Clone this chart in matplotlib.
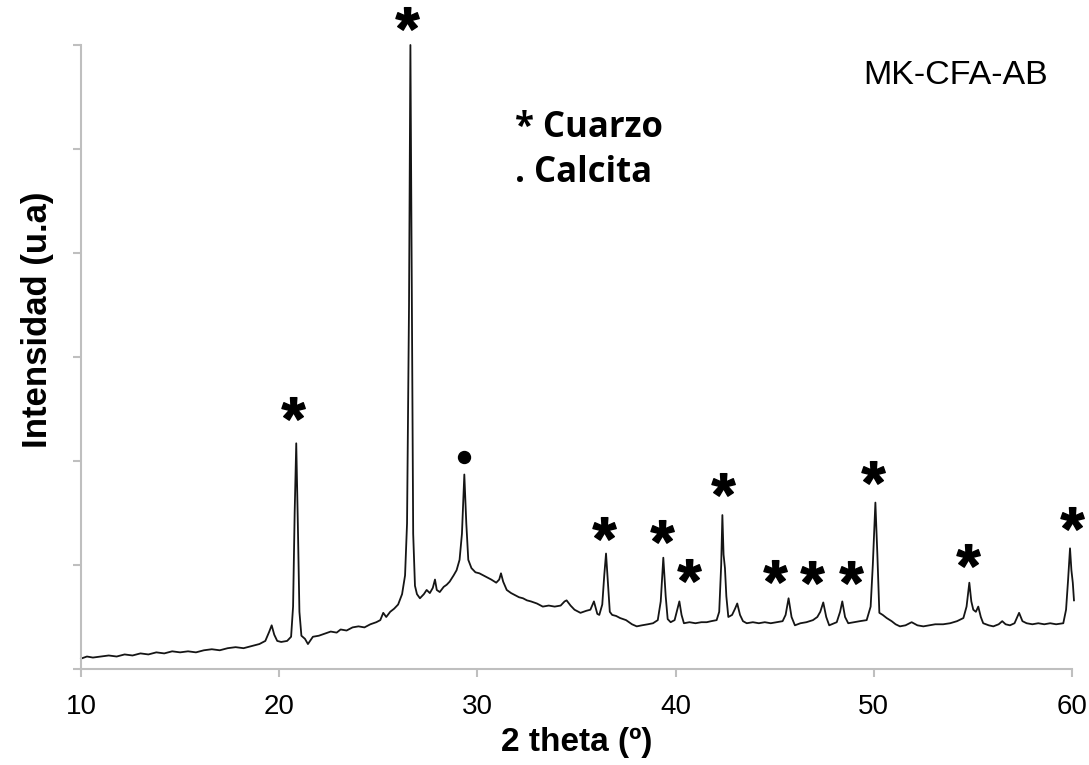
import numpy as np
import matplotlib
matplotlib.use('Agg')
import matplotlib.pyplot as plt
from matplotlib.textpath import TextPath
from matplotlib.font_manager import FontProperties
from matplotlib.path import Path

plt.rcParams['font.family'] = 'Liberation Sans'

# difractograma MK-CFA-AB (2 theta, intensidad en u.a.)
two_theta = [
    10.0, 10.3, 10.6, 11.0, 11.4, 11.8, 12.2, 12.6, 13.0, 13.4, 13.8, 14.2,
    14.6, 15.0, 15.4, 15.8, 16.2, 16.6, 17.0, 17.4, 17.8, 18.2, 18.6, 19.0,
    19.3, 19.5, 19.62, 19.75, 19.9, 20.1, 20.4, 20.6, 20.7, 20.78, 20.86, 20.94,
    21.02, 21.12, 21.3, 21.45, 21.7, 22.0, 22.3, 22.6, 22.9, 23.1, 23.4, 23.7,
    24.0, 24.3, 24.6, 24.9, 25.1, 25.25, 25.4, 25.6, 25.8, 26.0, 26.2, 26.35,
    26.45, 26.55, 26.62, 26.68, 26.76, 26.85, 26.95, 27.1, 27.3, 27.44, 27.6, 27.75,
    27.86, 27.95, 28.1, 28.3, 28.45, 28.6, 28.8, 28.95, 29.1, 29.22, 29.34, 29.44,
    29.54, 29.7, 29.9, 30.1, 30.3, 30.5, 30.7, 30.95, 31.1, 31.19, 31.3, 31.48,
    31.7, 31.9, 32.1, 32.3, 32.5, 32.7, 33.0, 33.3, 33.6, 33.9, 34.2, 34.4,
    34.5, 34.7, 34.9, 35.2, 35.5, 35.7, 35.88, 36.05, 36.15, 36.3, 36.4, 36.49,
    36.58, 36.68, 36.8, 37.0, 37.2, 37.5, 37.8, 38.04, 38.3, 38.6, 38.86, 39.1,
    39.25, 39.38, 39.5, 39.6, 39.75, 39.95, 40.1, 40.19, 40.3, 40.42, 40.7, 41.0,
    41.3, 41.57, 41.8, 42.07, 42.2, 42.3, 42.36, 42.42, 42.49, 42.56, 42.66, 42.85,
    43.0, 43.11, 43.25, 43.4, 43.59, 43.9, 44.2, 44.5, 44.8, 45.1, 45.4, 45.55,
    45.7, 45.85, 46.02, 46.3, 46.6, 46.93, 47.15, 47.3, 47.45, 47.6, 47.75, 48.0,
    48.13, 48.3, 48.41, 48.55, 48.71, 49.0, 49.3, 49.64, 49.84, 49.95, 50.08, 50.18,
    50.28, 50.45, 50.65, 50.9, 51.1, 51.32, 51.6, 51.91, 52.2, 52.5, 52.8, 53.1,
    53.5, 53.85, 54.2, 54.52, 54.68, 54.82, 54.92, 55.02, 55.15, 55.27, 55.4, 55.52,
    55.8, 56.03, 56.3, 56.48, 56.65, 56.87, 57.1, 57.33, 57.5, 57.71, 58.0, 58.3,
    58.6, 58.9, 59.2, 59.56, 59.7, 59.8, 59.9, 59.97, 60.04, 60.1,
]
intensidad = [
    0.10, 0.12, 0.11, 0.12, 0.13, 0.12, 0.14, 0.13, 0.15, 0.14, 0.16, 0.15,
    0.17, 0.16, 0.17, 0.16, 0.18, 0.19, 0.18, 0.20, 0.21, 0.20, 0.22, 0.24,
    0.27, 0.36, 0.42, 0.33, 0.27, 0.26, 0.27, 0.31, 0.60, 1.50, 2.17, 1.40,
    0.55, 0.32, 0.29, 0.24, 0.31, 0.32, 0.34, 0.36, 0.35, 0.38, 0.37, 0.40,
    0.41, 0.40, 0.43, 0.45, 0.47, 0.54, 0.50, 0.55, 0.58, 0.62, 0.72, 0.90,
    1.40, 3.50, 6.00, 4.00, 1.30, 0.80, 0.72, 0.68, 0.72, 0.76, 0.73, 0.78,
    0.86, 0.76, 0.74, 0.79, 0.81, 0.84, 0.90, 0.95, 1.05, 1.30, 1.87, 1.40,
    1.05, 0.97, 0.93, 0.92, 0.90, 0.88, 0.86, 0.83, 0.86, 0.92, 0.84, 0.76,
    0.73, 0.71, 0.69, 0.68, 0.66, 0.65, 0.63, 0.60, 0.61, 0.60, 0.61, 0.65,
    0.66, 0.61, 0.57, 0.54, 0.56, 0.57, 0.65, 0.53, 0.52, 0.62, 0.90, 1.11,
    0.85, 0.55, 0.52, 0.51, 0.49, 0.47, 0.43, 0.41, 0.42, 0.43, 0.44, 0.47,
    0.65, 1.07, 0.70, 0.48, 0.45, 0.47, 0.58, 0.65, 0.52, 0.44, 0.45, 0.44,
    0.45, 0.45, 0.46, 0.47, 0.55, 1.00, 1.48, 1.10, 0.97, 0.70, 0.50, 0.52,
    0.58, 0.63, 0.52, 0.46, 0.44, 0.45, 0.44, 0.45, 0.44, 0.45, 0.46, 0.52,
    0.68, 0.50, 0.42, 0.44, 0.45, 0.47, 0.50, 0.55, 0.64, 0.50, 0.42, 0.44,
    0.45, 0.55, 0.65, 0.50, 0.44, 0.45, 0.46, 0.47, 0.60, 1.00, 1.60, 1.10,
    0.54, 0.52, 0.49, 0.46, 0.43, 0.41, 0.42, 0.45, 0.42, 0.41, 0.42, 0.43,
    0.43, 0.44, 0.46, 0.49, 0.60, 0.83, 0.65, 0.57, 0.55, 0.60, 0.50, 0.44,
    0.42, 0.41, 0.43, 0.46, 0.43, 0.42, 0.44, 0.54, 0.46, 0.44, 0.43, 0.44,
    0.43, 0.44, 0.43, 0.44, 0.57, 0.85, 1.16, 0.95, 0.83, 0.66,
]

# marcas de fases
cuarzo_x = [20.70, 26.45, 36.39, 39.31, 40.68, 42.39, 45.01, 46.88, 48.85, 49.96, 54.75, 60.0]
cuarzo_y = [2.41, 6.16, 1.26, 1.23, 0.86, 1.68, 0.85, 0.84, 0.84, 1.80, 1.00, 1.36]
calcita_x = [29.30]
calcita_y = [2.04]

x_ticks = [10, 20, 30, 40, 50, 60]
y_ticks = [0, 1, 2, 3, 4, 5, 6]

gris = '#bfbfbf'

fig = plt.figure(figsize=(10.89, 7.65), dpi=100)
ax = fig.add_axes([81 / 1089, 1 - 669 / 765, 991 / 1089, 624 / 765])

ax.plot(two_theta, intensidad, color='#151515', lw=1.3, clip_on=False)

# asterisco como marcador
tp = TextPath((0, 0), '*', prop=FontProperties(family='Liberation Sans', weight='bold'))
v = tp.vertices
c = (v.min(axis=0) + v.max(axis=0)) / 2
star = Path(v - c, tp.codes)
ax.plot(cuarzo_x, cuarzo_y, ls='none', marker=star, ms=30, color='black', clip_on=False)
ax.plot(calcita_x, calcita_y, ls='none', marker='o', ms=8.6, color='black', clip_on=False)

ax.text(31.9, 5.12, '* Cuarzo', fontfamily='Open Sans', fontweight='bold', fontsize=25)
ax.text(31.9, 4.68, '. Calcita', fontfamily='Open Sans', fontweight='bold', fontsize=25)
ax.text(54.15, 5.625, 'MK-CFA-AB', fontsize=24.5, ha='center', va='baseline')

ax.set_xlim(10, 60)
ax.set_ylim(0, 6)
ax.set_xticks(x_ticks)
ax.set_yticks(y_ticks)
ax.set_yticklabels([])
ax.tick_params(axis='both', colors=gris, width=1.5, length=6, labelcolor='black', labelsize=20)
ax.tick_params(axis='x', pad=12)
for s in ['top', 'right']:
    ax.spines[s].set_visible(False)
for s in ['left', 'bottom']:
    ax.spines[s].set_color(gris)
    ax.spines[s].set_linewidth(1.5)

ax.set_xlabel('2 theta (º)', fontsize=24, fontweight='bold')
ax.xaxis.set_label_coords(0.5005, -0.093)
ax.set_ylabel('Intensidad (u.a)', fontsize=25, fontweight='bold')
ax.yaxis.set_label_coords(-0.027, 0.559)

fig.savefig('out.png', dpi=100)
